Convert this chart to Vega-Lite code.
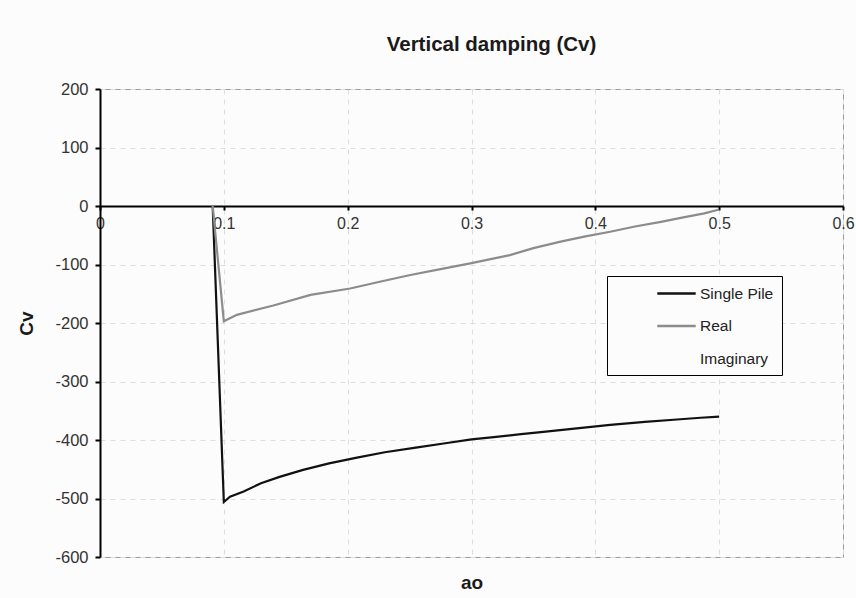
{
  "$schema": "https://vega.github.io/schema/vega-lite/v6.json",
  "autosize": {"type": "none"},
  "padding": {"left": 100, "top": 89, "right": 13, "bottom": 41},
  "width": 743,
  "height": 468,
  "background": "#fcfcfc",
  "title": {
    "text": "Vertical damping (Cv)",
    "font": "Liberation Sans",
    "fontSize": 20.5,
    "fontWeight": "bold",
    "color": "#1a1a1a",
    "anchor": "middle",
    "dx": 20,
    "offset": 26
  },
  "config": {
    "view": {"stroke": "#9a9a9a", "strokeWidth": 1},
    "font": "Liberation Sans"
  },
  "data": {
    "values": [
      {"ao": 0.091, "Cv": 0, "series": "Single Pile"},
      {"ao": 0.1, "Cv": -506, "series": "Single Pile"},
      {"ao": 0.105, "Cv": -497, "series": "Single Pile"},
      {"ao": 0.116, "Cv": -488, "series": "Single Pile"},
      {"ao": 0.13, "Cv": -474, "series": "Single Pile"},
      {"ao": 0.145, "Cv": -463, "series": "Single Pile"},
      {"ao": 0.164, "Cv": -451, "series": "Single Pile"},
      {"ao": 0.185, "Cv": -440, "series": "Single Pile"},
      {"ao": 0.2075, "Cv": -430, "series": "Single Pile"},
      {"ao": 0.23, "Cv": -421, "series": "Single Pile"},
      {"ao": 0.255, "Cv": -413, "series": "Single Pile"},
      {"ao": 0.2775, "Cv": -406, "series": "Single Pile"},
      {"ao": 0.3, "Cv": -399, "series": "Single Pile"},
      {"ao": 0.318, "Cv": -395, "series": "Single Pile"},
      {"ao": 0.34, "Cv": -390, "series": "Single Pile"},
      {"ao": 0.358, "Cv": -386, "series": "Single Pile"},
      {"ao": 0.385, "Cv": -380, "series": "Single Pile"},
      {"ao": 0.412, "Cv": -374, "series": "Single Pile"},
      {"ao": 0.44, "Cv": -369, "series": "Single Pile"},
      {"ao": 0.466, "Cv": -365, "series": "Single Pile"},
      {"ao": 0.485, "Cv": -362, "series": "Single Pile"},
      {"ao": 0.5, "Cv": -360, "series": "Single Pile"},
      {"ao": 0.091, "Cv": 0, "series": "Real"},
      {"ao": 0.1, "Cv": -197, "series": "Real"},
      {"ao": 0.1105, "Cv": -186, "series": "Real"},
      {"ao": 0.14, "Cv": -170, "series": "Real"},
      {"ao": 0.17, "Cv": -152, "series": "Real"},
      {"ao": 0.202, "Cv": -141, "series": "Real"},
      {"ao": 0.225, "Cv": -130, "series": "Real"},
      {"ao": 0.2506, "Cv": -118, "series": "Real"},
      {"ao": 0.275, "Cv": -108, "series": "Real"},
      {"ao": 0.299, "Cv": -98, "series": "Real"},
      {"ao": 0.331, "Cv": -84, "series": "Real"},
      {"ao": 0.35, "Cv": -72, "series": "Real"},
      {"ao": 0.372, "Cv": -61, "series": "Real"},
      {"ao": 0.392, "Cv": -52, "series": "Real"},
      {"ao": 0.412, "Cv": -44, "series": "Real"},
      {"ao": 0.432, "Cv": -35, "series": "Real"},
      {"ao": 0.453, "Cv": -27, "series": "Real"},
      {"ao": 0.47, "Cv": -20, "series": "Real"},
      {"ao": 0.488, "Cv": -12.5, "series": "Real"},
      {"ao": 0.5, "Cv": -6, "series": "Real"}
    ]
  },
  "mark": {"type": "line", "strokeWidth": 2.2},
  "encoding": {
    "x": {
      "field": "ao",
      "type": "quantitative",
      "scale": {"domain": [0, 0.6], "nice": false, "zero": false},
      "axis": {
        "title": "ao",
        "titleFontSize": 19,
        "titleFontWeight": "bold",
        "titleColor": "#1a1a1a",
        "titlePadding": 342,
        "offset": -351,
        "values": [0, 0.1, 0.2, 0.3, 0.4, 0.5, 0.6],
        "format": "~g",
        "labelFontSize": 16,
        "labelColor": "#333",
        "labelPadding": 5,
        "labelFlush": false,
        "domainColor": "#000",
        "domainWidth": 2,
        "tickColor": "#000",
        "tickWidth": 2,
        "tickSize": 4,
        "grid": true,
        "gridColor": "#dedede",
        "gridDash": [5, 5],
        "gridWidth": 1
      }
    },
    "y": {
      "field": "Cv",
      "type": "quantitative",
      "scale": {"domain": [-600, 200], "nice": false},
      "axis": {
        "title": "Cv",
        "titleFontSize": 19,
        "titleFontWeight": "bold",
        "titleColor": "#1a1a1a",
        "titlePadding": 18,
        "values": [-600, -500, -400, -300, -200, -100, 0, 100, 200],
        "labelExpr": "datum.value < 0 ? '-' + abs(datum.value) : '' + datum.value",
        "labelFontSize": 16.5,
        "labelColor": "#333",
        "labelPadding": 7,
        "domainColor": "#000",
        "domainWidth": 2,
        "tickColor": "#000",
        "tickWidth": 2,
        "tickSize": 5,
        "grid": true,
        "gridColor": "#dedede",
        "gridDash": [5, 5],
        "gridWidth": 1
      }
    },
    "color": {
      "field": "series",
      "type": "nominal",
      "scale": {
        "domain": ["Single Pile", "Real", "Imaginary"],
        "range": ["#111111", "#8c8c8c", "rgba(0,0,0,0)"]
      },
      "legend": {
        "title": null,
        "orient": "none",
        "legendX": 507,
        "legendY": 187,
        "strokeColor": "#000",
        "fillColor": "#fcfcfc",
        "padding": 8,
        "symbolType": "M-2.4,0H2.4",
        "symbolSize": 256,
        "symbolStrokeWidth": 2.5,
        "symbolOffset": 52,
        "labelFontSize": 15.5,
        "labelColor": "#222",
        "labelOffset": 14,
        "labelExpr": "datum.label + '\u00a0\u00a0'",
        "rowPadding": 14.5
      }
    }
  }
}
